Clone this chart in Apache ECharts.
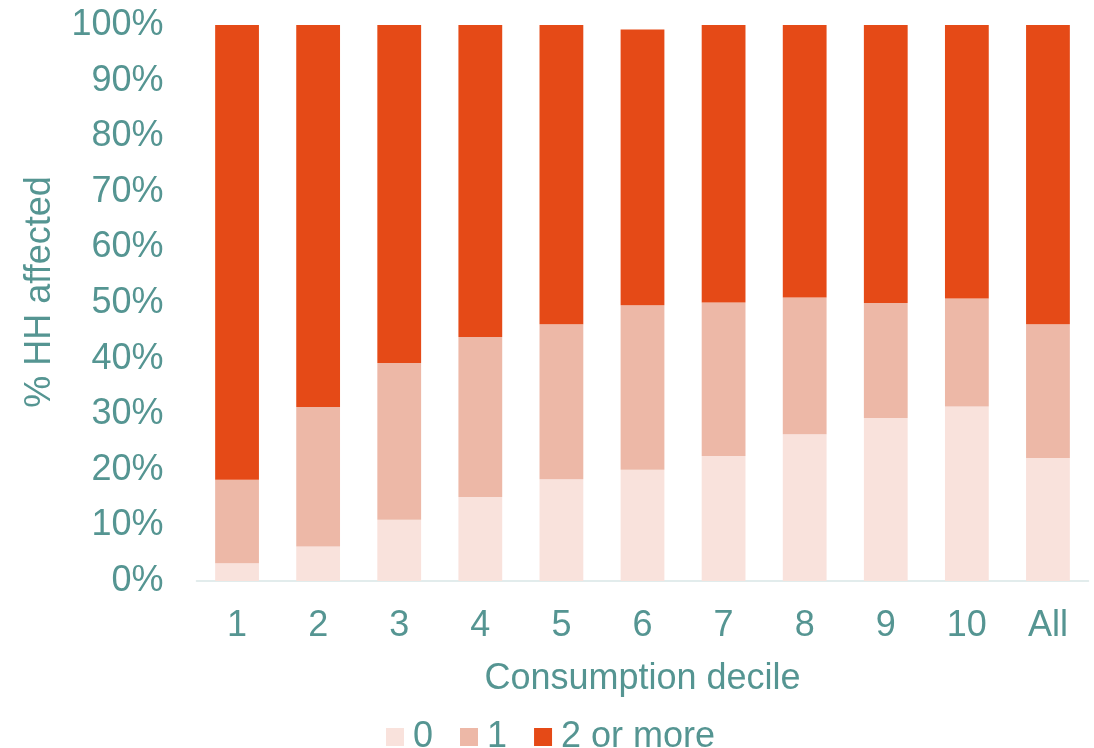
<!DOCTYPE html>
<html>
<head>
<meta charset="utf-8">
<script src="https://cdn.jsdelivr.net/npm/echarts@6/dist/echarts.min.js"></script>
<style>
  html, body { margin: 0; padding: 0; background: #ffffff; }
  #chart { width: 1094px; height: 748px; }
</style>
</head>
<body>
<div id="chart"></div>
<script>
// Share of households by number of shocks, per consumption decile (%)
const categories = ['1', '2', '3', '4', '5', '6', '7', '8', '9', '10', 'All'];
const shocks0 = [3.2, 6.2, 11.0, 15.1, 18.3, 20.0, 22.5, 26.4, 29.3, 31.4, 22.1];
const shocks1 = [15.0, 25.1, 28.2, 28.8, 27.9, 29.6, 27.6, 24.6, 20.7, 19.4, 24.1];
const shocks2plus = [81.8, 68.7, 60.8, 56.1, 53.8, 49.6, 49.9, 49.0, 50.0, 49.2, 53.8];
const seriesNames = ['0', '1', '2 or more'];
const yTicks = [0, 10, 20, 30, 40, 50, 60, 70, 80, 90, 100];

const textColor = '#559592';
const fontFamily = '"Liberation Sans", Arial, sans-serif';
const colors = ['#f9e2dc', '#edb8a7', '#e54a17'];

const chart = echarts.init(document.getElementById('chart'), null, { renderer: 'canvas' });

const seriesData = [shocks0, shocks1, shocks2plus];

chart.setOption({
  animation: false,
  textStyle: { fontFamily: fontFamily },
  grid: { left: 196.5, right: 5.5, top: 25, bottom: 167, containLabel: false, outerBoundsMode: 'none' },
  legend: {
    data: seriesNames,
    left: 381,
    top: 714,
    itemWidth: 18,
    itemHeight: 18,
    itemGap: 27,
    icon: 'rect',
    textStyle: { color: textColor, fontSize: 36, fontFamily: fontFamily, padding: [0, 0, 0, 4] }
  },
  xAxis: {
    type: 'category',
    data: categories,
    name: 'Consumption decile',
    nameLocation: 'middle',
    nameGap: 80,
    nameTextStyle: { color: textColor, fontSize: 36, fontFamily: fontFamily },
    axisLine: { lineStyle: { color: '#d9e6e6', width: 1.5 } },
    axisTick: { show: false },
    axisLabel: { color: textColor, fontSize: 36, margin: 27, fontFamily: fontFamily }
  },
  yAxis: {
    type: 'value',
    min: 0,
    max: 100,
    interval: 10,
    name: '% HH affected',
    nameLocation: 'middle',
    nameGap: 138,
    nameTextStyle: { color: textColor, fontSize: 36, fontFamily: fontFamily, padding: [0, 0, 0, 22] },
    splitLine: { show: false },
    axisLine: { show: false },
    axisTick: { show: false },
    axisLabel: {
      color: textColor,
      fontSize: 36,
      margin: 33,
      fontFamily: fontFamily,
      formatter: v => (yTicks.indexOf(v) >= 0 ? v + '%' : '')
    }
  },
  series: seriesNames.map((name, i) => ({
    name: name,
    type: 'bar',
    stack: 'total',
    barCategoryGap: '46%',
    data: seriesData[i],
    itemStyle: { color: colors[i] }
  }))
});
</script>
</body>
</html>
